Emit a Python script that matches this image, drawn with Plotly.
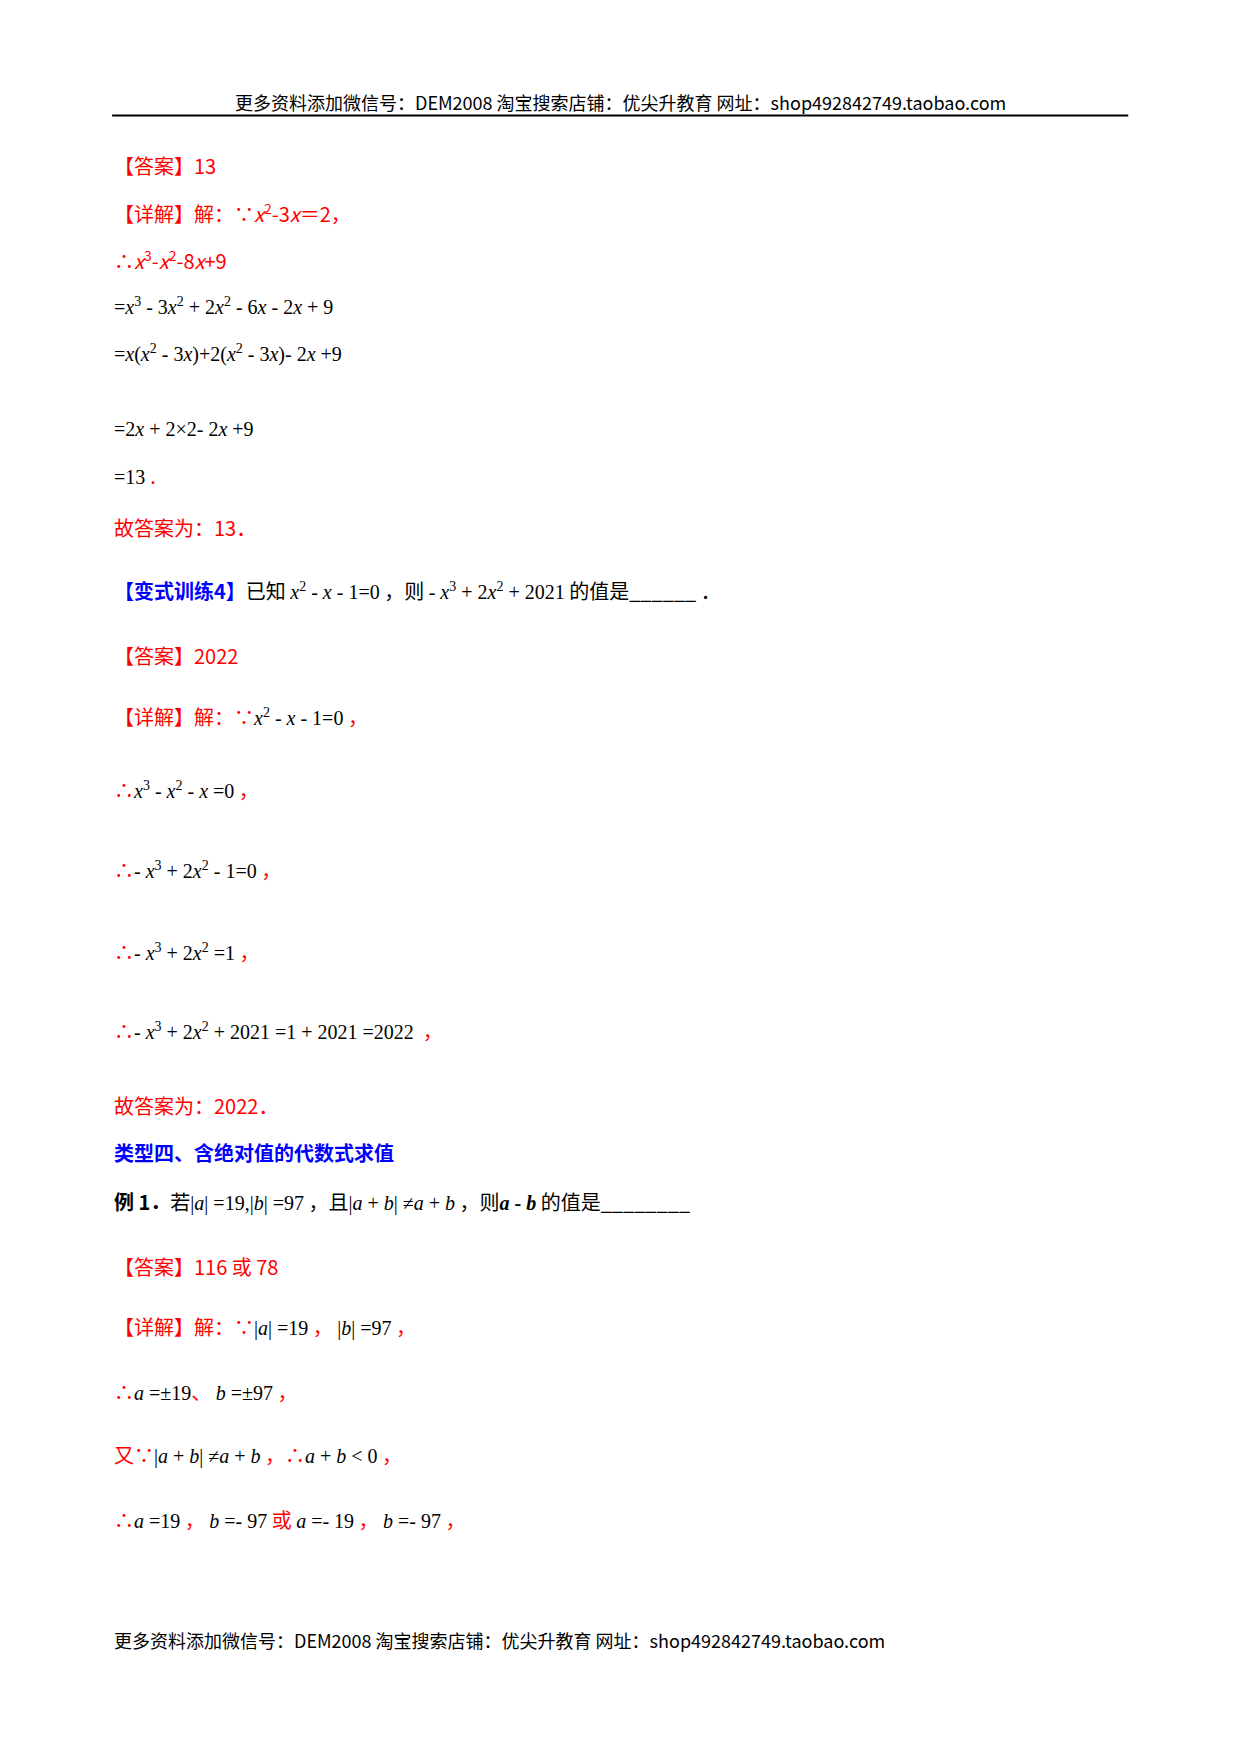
import plotly.graph_objects as go

RED = "#ff0000"
BLUE = "#0000ff"
W, H = 1108, 1568
OFF = 7

def r(t):
    return f"<span style='color:{RED}'>{t}</span>"

def m(t):
    return f"<span style='font-family:Liberation Serif'>{t}</span>"

header = "更多资料添加微信号：DEM2008 淘宝搜索店铺：优尖升教育 网址：shop492842749.taobao.com"

lines = [
    r("【答案】13"),
    r("【详解】解：∵<i>x</i><sup>2</sup>-3<i>x</i>＝2，"),
    r("∴<i>x</i><sup>3</sup>-<i>x</i><sup>2</sup>-8<i>x</i>+9"),
    m("=<i>x</i><sup>3</sup> - 3<i>x</i><sup>2</sup> + 2<i>x</i><sup>2</sup> - 6<i>x</i> - 2<i>x</i> + 9"),
    m("=<i>x</i>(<i>x</i><sup>2</sup> - 3<i>x</i>)+2(<i>x</i><sup>2</sup> - 3<i>x</i>)- 2<i>x</i> +9"),
    m("=2<i>x</i> + 2×2- 2<i>x</i> +9"),
    m("=13 ") + r("."),
    r("故答案为：13．"),
    f"<span style='color:{BLUE}'><b>【变式训练4】</b></span>已知 " + m("<i>x</i><sup>2</sup> - <i>x</i> - 1=0") + " ，则 " + m("- <i>x</i><sup>3</sup> + 2<i>x</i><sup>2</sup> + 2021") + " 的值是______ ．",
    r("【答案】2022"),
    r("【详解】解：∵") + m("<i>x</i><sup>2</sup> - <i>x</i> - 1=0") + r(" ，"),
    r("∴") + m("<i>x</i><sup>3</sup> - <i>x</i><sup>2</sup> - <i>x</i> =0") + r(" ，"),
    r("∴") + m("- <i>x</i><sup>3</sup> + 2<i>x</i><sup>2</sup> - 1=0") + r(" ，"),
    r("∴") + m("- <i>x</i><sup>3</sup> + 2<i>x</i><sup>2</sup> =1") + r(" ，"),
    r("∴") + m("- <i>x</i><sup>3</sup> + 2<i>x</i><sup>2</sup> + 2021 =1 + 2021 =2022") + r("  ，"),
    r("故答案为：2022．"),
    f"<span style='color:{BLUE}'><b>类型四、含绝对值的代数式求值</b></span>",
    "<b>例 1．</b>若" + m("|<i>a</i>| =19,|<i>b</i>| =97") + " ，且" + m("|<i>a</i> + <i>b</i>| ≠<i>a</i> + <i>b</i>") + " ，则" + m("<b><i>a</i> - <i>b</i></b>") + " 的值是________",
    r("【答案】116 或 78"),
    r("【详解】解：∵") + m("|<i>a</i>| =19") + r(" ， ") + m("|<i>b</i>| =97") + r(" ，"),
    r("∴") + m("<i>a</i> =±19") + r("、 ") + m("<i>b</i> =±97") + r(" ，"),
    r("又∵") + m("|<i>a</i> + <i>b</i>| ≠<i>a</i> + <i>b</i>") + r(" ，∴") + m("<i>a</i> + <i>b</i> &lt; 0") + r(" ，"),
    r("∴") + m("<i>a</i> =19") + r(" ， ") + m("<i>b</i> =- 97") + r(" 或 ") + m("<i>a</i> =- 19") + r(" ， ") + m("<i>b</i> =- 97") + r(" ，"),
]
line_y = [148, 190, 232, 273, 316, 383, 425, 471, 528, 586, 640, 706, 777, 850, 921,
          988, 1030, 1074, 1132, 1186, 1244, 1300, 1358]

fig = go.Figure()
fig.add_trace(go.Scatter(x=[OFF, W + OFF], y=[OFF, H + OFF], mode="markers", marker=dict(opacity=0),
                         hoverinfo="skip", showlegend=False))

fig.add_annotation(x=554, y=91, text=header, showarrow=False, xanchor="center",
                   font=dict(size=18, color="black"))
fig.add_shape(type="line", x0=100, x1=1008, y0=103, y1=103, line=dict(color="black", width=2))
for t, y in zip(lines, line_y):
    fig.add_annotation(x=100, y=y, text=t, showarrow=False, xanchor="left",
                       font=dict(size=20, color="black"))
fig.add_annotation(x=100, y=1466, text=header, showarrow=False, xanchor="left",
                   font=dict(size=18, color="black"))

fig.update_layout(
    width=1240, height=1754, margin=dict(l=0, r=0, t=0, b=0),
    plot_bgcolor="white", paper_bgcolor="white",
    font=dict(family="Noto Sans CJK SC, Lato"),
    xaxis=dict(range=[OFF, W + OFF], visible=False),
    yaxis=dict(range=[H + OFF, OFF], visible=False),
)
fig.write_html("out.html")
